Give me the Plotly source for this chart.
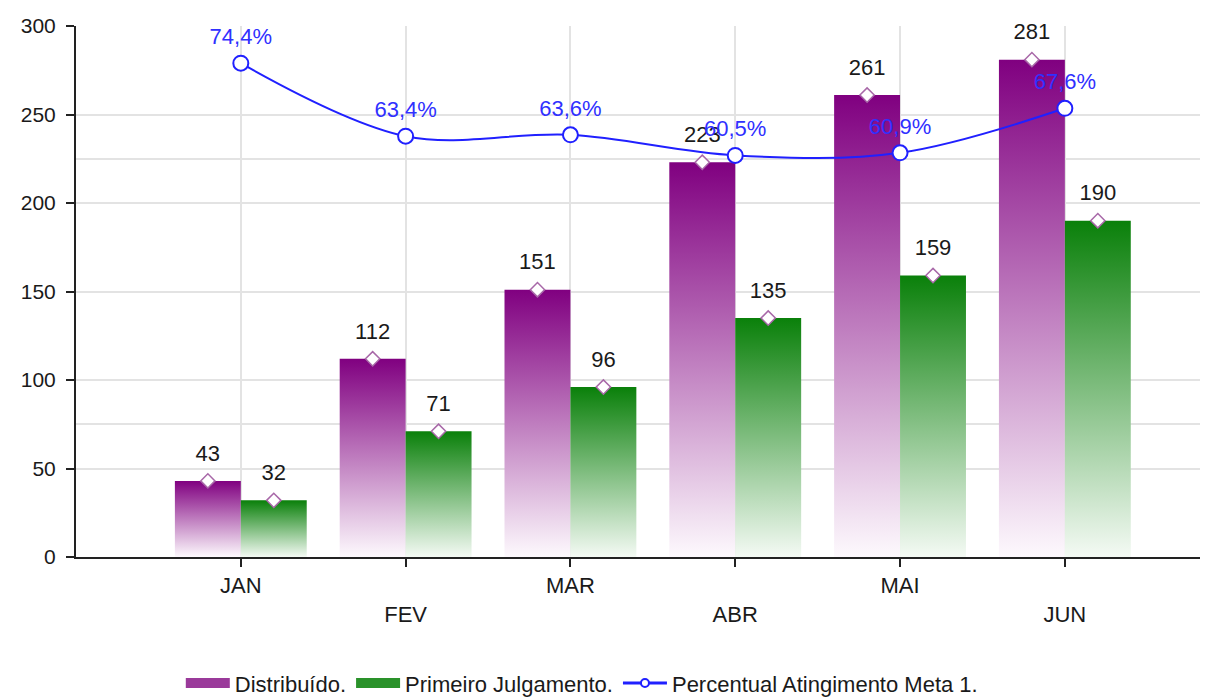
import plotly.graph_objects as go

months = ["JAN", "FEV", "MAR", "ABR", "MAI", "JUN"]
distribuido = [43, 112, 151, 223, 261, 281]
primeiro = [32, 71, 96, 135, 159, 190]
percentual = [74.4, 63.4, 63.6, 60.5, 60.9, 67.6]
y_ticks = [0, 50, 100, 150, 200, 250, 300]

FONT = "Liberation Sans"
BAR_W = 0.4
PURPLE_SCALE = [[0, "#fdf9fd"], [1, "#800080"]]
GREEN_SCALE = [[0, "#f4faf4"], [1, "#0a800a"]]
TXT = "#1a1a1a"
BLUE = "#2020ff"

fig = go.Figure()
idx = list(range(len(months)))


def add_bars(values, offset, scale):
    for i, v in zip(idx, values):
        x0 = i + offset
        x1 = x0 + BAR_W
        fig.add_trace(go.Scatter(
            x=[x0, x0, x1, x1, x0], y=[0, v, v, 0, 0],
            mode="lines", fill="toself",
            line=dict(width=0, color=scale[1][1]),
            fillgradient=dict(type="vertical", colorscale=scale),
            showlegend=False, hoverinfo="skip",
        ))


add_bars(distribuido, -BAR_W, PURPLE_SCALE)
add_bars(primeiro, 0, GREEN_SCALE)

for vals, off in ((distribuido, -BAR_W / 2), (primeiro, BAR_W / 2)):
    xs = [i + off for i in idx]
    fig.add_trace(go.Scatter(
        x=xs, y=vals, mode="markers+text",
        marker=dict(size=22, color="rgba(0,0,0,0)"),
        text=[str(v) for v in vals], textposition="top center",
        textfont=dict(family=FONT, size=22, color=TXT),
        showlegend=False, hoverinfo="skip", cliponaxis=False,
    ))
    fig.add_trace(go.Scatter(
        x=xs, y=vals, mode="markers",
        marker=dict(symbol="diamond", size=11, color="white",
                    line=dict(color="#a868a8", width=1.5)),
        showlegend=False, hoverinfo="skip", cliponaxis=False,
    ))

pct_text = [f"{p:.1f}".replace(".", ",") + "%" for p in percentual]
fig.add_trace(go.Scatter(
    x=idx, y=percentual, yaxis="y2",
    mode="lines+markers",
    line=dict(color=BLUE, width=2, shape="spline"),
    marker=dict(symbol="circle", size=15, color="white",
                line=dict(color=BLUE, width=2)),
    showlegend=False, hoverinfo="skip", cliponaxis=False,
))
fig.add_trace(go.Scatter(
    x=idx, y=percentual, yaxis="y2", mode="markers+text",
    marker=dict(size=20, color="rgba(0,0,0,0)"),
    text=pct_text, textposition="top center",
    textfont=dict(family=FONT, size=22, color="#3030ff"),
    showlegend=False, hoverinfo="skip", cliponaxis=False,
))

# legend entries
fig.add_trace(go.Scatter(x=[None], y=[None], mode="lines",
                         line=dict(color="#9a3a9a", width=14),
                         name="Distribuído."))
fig.add_trace(go.Scatter(x=[None], y=[None], mode="lines",
                         line=dict(color="#2a922a", width=14),
                         name="Primeiro Julgamento."))
fig.add_trace(go.Scatter(x=[None], y=[None], mode="lines+markers",
                         line=dict(color=BLUE, width=3),
                         marker=dict(symbol="circle", size=8, color="white",
                                     line=dict(color=BLUE, width=2)),
                         name="Percentual Atingimento Meta 1."))

fig.update_layout(
    width=1201, height=689,
    margin=dict(l=68, r=9, t=18, b=140, autoexpand=False),
    paper_bgcolor="white", plot_bgcolor="white",
    font=dict(family=FONT, size=22, color=TXT),
    xaxis=dict(
        range=[-1, 5.82], automargin=False,
        tickvals=idx,
        ticktext=[m if i % 2 == 0 else "<br>" + m for i, m in enumerate(months)],
        showgrid=True, gridcolor="#e3e3e3", gridwidth=1.5,
        showline=True, linecolor="#222", linewidth=2,
        ticks="outside", ticklen=8, tickcolor="#222", tickwidth=2,
        tickfont=dict(family=FONT, size=22, color=TXT),
        zeroline=False,
    ),
    yaxis=dict(
        range=[0, 300], tickvals=y_ticks, automargin=False,
        showgrid=True, gridcolor="#e3e3e3", gridwidth=1.5,
        showline=True, linecolor="#222", linewidth=2,
        ticks="outside", ticklen=8, tickcolor="#222", tickwidth=2,
        ticklabelstandoff=6,
        tickfont=dict(family=FONT, size=21, color=TXT),
        zeroline=False,
    ),
    yaxis2=dict(
        range=[0, 80], dtick=20, overlaying="y", side="right",
        automargin=False,
        showgrid=True, gridcolor="#e3e3e3", gridwidth=1.5,
        showticklabels=False, ticks="", showline=False, zeroline=False,
    ),
    legend=dict(
        orientation="h", x=0.45, xanchor="center", y=-0.198, yanchor="top",
        font=dict(family=FONT, size=22, color=TXT),
        itemwidth=44,
    ),
    showlegend=True,
)

fig.write_html("out.html")
